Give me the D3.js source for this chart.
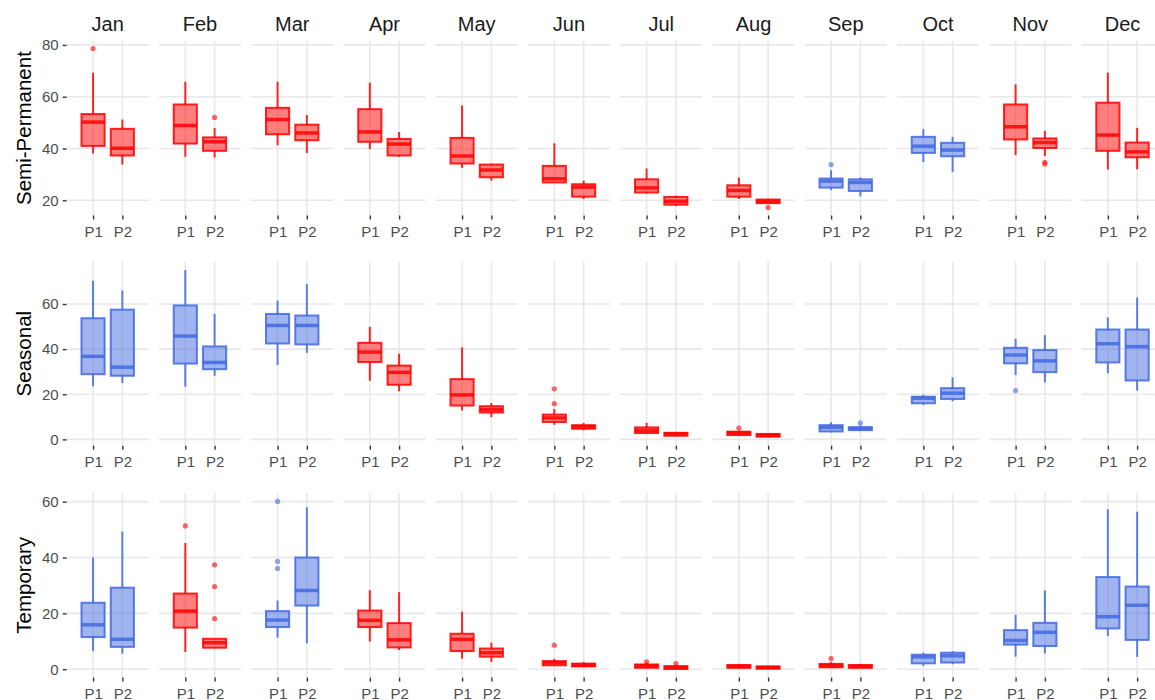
<!DOCTYPE html>
<html>
<head>
<meta charset="utf-8">
<script src="https://cdn.jsdelivr.net/npm/d3@7"></script>
<style>
  body { margin: 0; background: #fff; }
  text { font-family: 'Liberation Sans', Arial, sans-serif; }
</style>
</head>
<body>
<div id="chart"></div>
<script>
const months = ['Jan', 'Feb', 'Mar', 'Apr', 'May', 'Jun', 'Jul', 'Aug', 'Sep', 'Oct', 'Nov', 'Dec']
const periods = ['P1', 'P2']
const groups = ['Semi-Permanent', 'Seasonal', 'Temporary']

// each box: [lower whisker, q1, median, q3, upper whisker]
const semiP1 = [
  [38.1, 41.0, 50.2, 53.3, 69.3], [36.8, 41.9, 48.9, 57.0, 65.8], [41.3, 45.5, 51.2, 55.7, 65.8],
  [39.7, 42.6, 46.4, 55.2, 65.4], [32.5, 34.2, 37.1, 44.1, 56.6], [26.8, 26.9, 28.3, 33.3, 42.0],
  [22.6, 23.0, 24.8, 28.1, 32.3], [20.5, 21.4, 23.8, 25.8, 28.8], [23.9, 24.9, 27.4, 28.4, 31.6],
  [34.8, 38.3, 40.9, 44.5, 47.5], [37.4, 43.5, 48.4, 57.0, 64.8], [31.9, 39.1, 45.2, 57.7, 69.3]
]
const semiP2 = [
  [33.8, 37.3, 40.1, 47.6, 51.2], [36.5, 39.1, 42.6, 44.3, 47.9], [38.3, 43.2, 46.0, 49.2, 52.9],
  [36.8, 37.3, 41.7, 43.7, 46.4], [27.6, 28.9, 31.7, 33.8, 34.2], [20.5, 21.4, 25.1, 26.2, 27.6],
  [17.8, 18.3, 19.6, 21.3, 21.8], [18.6, 18.9, 19.6, 20.3, 20.4], [21.5, 23.6, 26.9, 28.1, 28.8],
  [31.0, 37.0, 39.4, 42.2, 44.5], [37.1, 40.2, 42.3, 43.9, 46.8], [32.0, 36.6, 38.7, 42.3, 48.0]
]
const semiColors = ['R', 'R', 'R', 'R', 'R', 'R', 'R', 'R', 'B', 'B', 'R', 'R']
const semiOutliers = [
  ['Jan', 'P1', 78.6], ['Feb', 'P2', 52.0], ['Aug', 'P2', 17.2],
  ['Sep', 'P1', 33.8], ['Nov', 'P2', 34.7], ['Nov', 'P2', 34.0]
]

const seasP1 = [
  [23.5, 28.9, 36.8, 53.7, 70.3], [23.3, 33.6, 45.8, 59.4, 75.1], [33.0, 42.5, 50.5, 55.6, 61.5],
  [26.0, 34.3, 38.7, 42.8, 49.9], [12.8, 15.0, 19.7, 26.7, 40.8], [6.5, 7.7, 9.5, 11.0, 13.5],
  [2.5, 2.8, 4.0, 5.3, 7.3], [1.8, 1.9, 2.8, 3.4, 3.8], [3.1, 3.5, 5.3, 6.3, 7.6],
  [15.3, 16.0, 18.2, 18.9, 19.8], [28.5, 33.7, 37.4, 40.6, 44.6], [29.3, 34.1, 42.4, 48.7, 54.0]
]
const seasP2 = [
  [24.9, 28.2, 32.0, 57.5, 66.0], [28.2, 31.1, 34.1, 41.2, 55.6], [38.4, 42.1, 50.5, 54.9, 68.8],
  [21.3, 24.2, 29.7, 32.7, 38.0], [9.9, 11.9, 13.2, 14.7, 16.1], [4.0, 4.7, 5.6, 6.3, 7.3],
  [1.5, 1.6, 2.4, 2.9, 3.3], [0.9, 1.2, 1.8, 2.4, 2.5], [3.8, 4.1, 4.8, 5.4, 6.2],
  [16.9, 17.9, 20.5, 22.7, 27.5], [25.3, 29.8, 34.8, 39.6, 46.2], [21.6, 26.1, 41.1, 48.7, 62.9]
]
const seasColors = ['B', 'B', 'B', 'R', 'R', 'R', 'R', 'R', 'B', 'B', 'B', 'B']
const seasOutliers = [
  ['Jun', 'P1', 22.4], ['Jun', 'P1', 15.8], ['Aug', 'P1', 5.0],
  ['Sep', 'P2', 7.3], ['Nov', 'P1', 21.6]
]

const tempP1 = [
  [6.5, 11.5, 15.9, 23.8, 40.0], [6.2, 14.9, 20.8, 27.1, 45.2], [11.3, 15.1, 17.6, 20.8, 24.6],
  [9.9, 15.1, 17.5, 21.0, 28.3], [3.8, 6.5, 10.7, 12.7, 20.6], [1.2, 1.4, 2.3, 2.9, 3.7],
  [0.4, 0.5, 1.2, 1.7, 2.3], [0.2, 0.5, 1.0, 1.5, 1.9], [0.5, 0.7, 1.3, 1.9, 2.6],
  [1.2, 2.1, 4.4, 5.2, 5.9], [4.5, 8.8, 10.3, 14.0, 19.5], [11.9, 14.6, 18.8, 33.0, 57.3]
]
const tempP2 = [
  [5.6, 8.0, 10.7, 29.2, 49.3], [7.5, 7.7, 9.5, 10.9, 11.0], [9.3, 22.8, 28.2, 40.0, 58.0],
  [6.9, 7.8, 10.5, 16.5, 27.6], [2.6, 4.5, 5.9, 7.4, 9.5], [0.7, 1.0, 1.5, 2.0, 2.6],
  [0.0, 0.1, 0.6, 1.1, 1.6], [0.0, 0.2, 0.6, 1.0, 1.2], [0.3, 0.5, 1.0, 1.5, 1.9],
  [1.8, 2.4, 4.8, 5.9, 6.5], [5.7, 8.3, 13.2, 16.6, 28.2], [4.4, 10.5, 22.9, 29.6, 56.4]
]
const tempColors = ['B', 'R', 'B', 'R', 'R', 'R', 'R', 'R', 'R', 'B', 'B', 'B']
const tempOutliers = [
  ['Feb', 'P1', 51.3], ['Feb', 'P2', 37.4], ['Feb', 'P2', 29.6], ['Feb', 'P2', 18.1],
  ['Mar', 'P1', 60.1], ['Mar', 'P1', 38.6], ['Mar', 'P1', 36.1], ['Jun', 'P1', 8.6],
  ['Jul', 'P1', 2.6], ['Jul', 'P2', 2.0], ['Sep', 'P1', 3.8]
]

const palette = { R: '#ff0000', B: '#4169e1' }

const rows = [
  { name: groups[0], boxes: [semiP1, semiP2], colors: semiColors, outliers: semiOutliers },
  { name: groups[1], boxes: [seasP1, seasP2], colors: seasColors, outliers: seasOutliers },
  { name: groups[2], boxes: [tempP1, tempP2], colors: tempColors, outliers: tempOutliers }
]

const width = 1155
const height = 700
// top / bottom of the panels in each row
const rowBands = [[40.6, 215.5], [261.6, 445.7], [493, 677.6]]

const svg = d3
  .select('#chart')
  .append('svg')
  .attr('width', width)
  .attr('height', height)
  .style('display', 'block')

const xMonth = d3
  .scaleBand()
  .domain(months)
  .range([66.7, 1163.5])
  .paddingInner(0.111)

const xPeriod = d3
  .scalePoint()
  .domain(periods)
  .range([0, xMonth.bandwidth()])
  .padding(0.9)

const boxWidth = xPeriod.step() * 0.79

// month strip labels
svg
  .selectAll('.strip')
  .data(months)
  .enter()
  .append('text')
  .attr('class', 'strip')
  .attr('x', d => xMonth(d) + xMonth.bandwidth() / 2)
  .attr('y', 31)
  .attr('text-anchor', 'middle')
  .style('font-size', '20px')
  .attr('fill', '#1a1a1a')
  .text(d => d)

rows.forEach(function(row, r) {
  const [top, bottom] = rowBands[r]

  const allValues = []
  row.boxes.forEach(b => b.forEach(s => allValues.push(s[0], s[4])))
  row.outliers.forEach(o => allValues.push(o[2]))
  const [lo, hi] = d3.extent(allValues)
  const pad = (hi - lo) * 0.05

  const y = d3
    .scaleLinear()
    .domain([lo - pad, hi + pad])
    .range([bottom, top])
  const ticks = y.ticks(4)

  const rowG = svg.append('g').attr('class', 'row')

  // axis title
  rowG
    .append('text')
    .attr('transform', `translate(31,${(top + bottom) / 2}) rotate(-90)`)
    .attr('text-anchor', 'middle')
    .style('font-size', '20.5px')
    .attr('fill', '#000')
    .text(row.name)

  // y axis on the first column only
  const yAxis = rowG
    .append('g')
    .attr('transform', `translate(${xMonth(months[0])},0)`)
    .call(d3.axisLeft(y).tickValues(ticks).tickSize(4).tickPadding(4))
  yAxis.select('.domain').remove()
  yAxis.selectAll('line').attr('stroke', '#333').attr('stroke-width', 1.4)
  yAxis
    .selectAll('text')
    .style('font-size', '15px')
    .style('font-family', "'Liberation Sans', Arial, sans-serif")
    .attr('fill', '#4d4d4d')

  months.forEach(function(month, m) {
    const color = palette[row.colors[m]]
    const panel = rowG
      .append('g')
      .attr('class', 'panel')
      .attr('transform', `translate(${xMonth(month)},0)`)

    // grid
    panel
      .selectAll('.hgrid')
      .data(ticks)
      .enter()
      .append('line')
      .attr('x1', 0)
      .attr('x2', xMonth.bandwidth())
      .attr('y1', d => y(d))
      .attr('y2', d => y(d))
      .attr('stroke', '#e8e8e8')
      .attr('stroke-width', 1.6)

    panel
      .selectAll('.vgrid')
      .data(periods)
      .enter()
      .append('line')
      .attr('x1', d => xPeriod(d))
      .attr('x2', d => xPeriod(d))
      .attr('y1', top)
      .attr('y2', bottom)
      .attr('stroke', '#e8e8e8')
      .attr('stroke-width', 1.6)

    // x axis
    const xAxis = panel
      .append('g')
      .attr('transform', `translate(0,${bottom})`)
      .call(d3.axisBottom(xPeriod).tickSize(4).tickPadding(7))
    xAxis.select('.domain').remove()
    xAxis.selectAll('line').attr('stroke', '#333').attr('stroke-width', 1.4)
    xAxis
      .selectAll('text')
      .style('font-size', '15px')
      .style('font-family', "'Liberation Sans', Arial, sans-serif")
      .attr('fill', '#4d4d4d')

    // boxes
    periods.forEach(function(p, i) {
      const s = row.boxes[i][m]
      const cx = xPeriod(p)
      const g = panel.append('g').attr('class', 'box')

      g.append('line')
        .attr('x1', cx)
        .attr('x2', cx)
        .attr('y1', y(s[0]))
        .attr('y2', y(s[1]))
      g.append('line')
        .attr('x1', cx)
        .attr('x2', cx)
        .attr('y1', y(s[3]))
        .attr('y2', y(s[4]))
      g.selectAll('line')
        .attr('stroke', color)
        .attr('stroke-opacity', 0.85)
        .attr('stroke-width', 2)

      g.append('rect')
        .attr('x', cx - boxWidth / 2)
        .attr('width', boxWidth)
        .attr('y', y(s[3]))
        .attr('height', Math.max(0.5, y(s[1]) - y(s[3])))
        .attr('fill', color)
        .attr('fill-opacity', 0.5)
        .attr('stroke', color)
        .attr('stroke-opacity', 0.85)
        .attr('stroke-width', 2)

      g.append('line')
        .attr('x1', cx - boxWidth / 2)
        .attr('x2', cx + boxWidth / 2)
        .attr('y1', y(s[2]))
        .attr('y2', y(s[2]))
        .attr('stroke', color)
        .attr('stroke-opacity', 0.85)
        .attr('stroke-width', 3.5)
    })

    // outliers
    panel
      .selectAll('.outlier')
      .data(row.outliers.filter(o => o[0] === month))
      .enter()
      .append('circle')
      .attr('class', 'outlier')
      .attr('cx', d => xPeriod(d[1]))
      .attr('cy', d => y(d[2]))
      .attr('r', 2.6)
      .attr('fill', color)
      .attr('opacity', 0.6)
  })
})
</script>
</body>
</html>
